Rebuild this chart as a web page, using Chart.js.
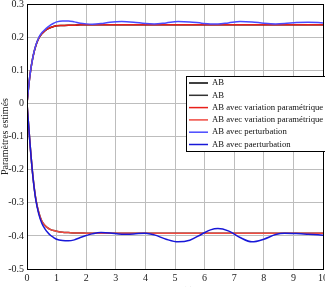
<!DOCTYPE html>
<html>
<head>
<meta charset="utf-8">
<script src="https://cdn.jsdelivr.net/npm/chart.js@4/dist/chart.umd.min.js"></script>
<style>
  html, body { margin: 0; padding: 0; background: #fff; }
  #wrap { width: 325px; height: 287px; position: relative; }
</style>
</head>
<body>
<div id="wrap"><canvas id="myChart"></canvas></div>
<script>
// time samples (s)
var temps = [0, 0.1, 0.2, 0.3, 0.4, 0.5, 0.6, 0.7, 0.8, 0.9, 1.0, 1.2, 1.4, 1.6, 1.8, 2.0, 2.2, 2.5, 2.8, 3.2, 3.6, 4.0, 4.3, 4.7, 5.1, 5.5, 5.9, 6.2, 6.45, 6.8, 7.2, 7.6, 8.0, 8.4, 8.7, 9.1, 9.5, 10];

// AB (hidden under the red ones)
var abHaut = [0, 0.085, 0.14, 0.175, 0.197, 0.21, 0.219, 0.225, 0.229, 0.232, 0.234, 0.235, 0.236, 0.236, 0.237, 0.237, 0.237, 0.237, 0.237, 0.237, 0.237, 0.237, 0.237, 0.237, 0.237, 0.237, 0.237, 0.237, 0.237, 0.237, 0.237, 0.237, 0.237, 0.237, 0.237, 0.237, 0.237, 0.237];
var abBas = [0, -0.12, -0.22, -0.29, -0.33, -0.355, -0.368, -0.376, -0.381, -0.384, -0.386, -0.389, -0.39, -0.391, -0.391, -0.392, -0.392, -0.392, -0.392, -0.392, -0.392, -0.392, -0.392, -0.392, -0.392, -0.392, -0.392, -0.392, -0.392, -0.392, -0.392, -0.392, -0.392, -0.392, -0.392, -0.392, -0.392, -0.392];

// AB avec variation parametrique
var varHaut = [0, 0.085, 0.14, 0.175, 0.197, 0.21, 0.219, 0.225, 0.229, 0.232, 0.234, 0.235, 0.236, 0.236, 0.237, 0.237, 0.237, 0.237, 0.237, 0.237, 0.237, 0.237, 0.237, 0.237, 0.237, 0.237, 0.237, 0.237, 0.237, 0.237, 0.237, 0.237, 0.237, 0.237, 0.237, 0.237, 0.237, 0.237];
var varBas = [0, -0.12, -0.22, -0.29, -0.33, -0.355, -0.368, -0.376, -0.381, -0.384, -0.386, -0.389, -0.39, -0.391, -0.391, -0.392, -0.392, -0.392, -0.392, -0.392, -0.392, -0.392, -0.392, -0.392, -0.392, -0.392, -0.392, -0.392, -0.392, -0.392, -0.392, -0.392, -0.392, -0.392, -0.392, -0.392, -0.392, -0.392];

// AB avec perturbation
var pertHaut = [0, 0.085, 0.14, 0.176, 0.199, 0.213, 0.222, 0.23, 0.237, 0.242, 0.246, 0.249, 0.249, 0.246, 0.242, 0.24, 0.239, 0.241, 0.245, 0.247, 0.245, 0.241, 0.24, 0.243, 0.247, 0.246, 0.242, 0.24, 0.24, 0.243, 0.247, 0.246, 0.242, 0.24, 0.241, 0.244, 0.245, 0.243];
var pertBas = [0, -0.12, -0.222, -0.293, -0.335, -0.362, -0.378, -0.39, -0.399, -0.405, -0.41, -0.414, -0.415, -0.412, -0.405, -0.399, -0.394, -0.39, -0.391, -0.395, -0.394, -0.392, -0.397, -0.41, -0.418, -0.413, -0.395, -0.382, -0.378, -0.385, -0.405, -0.418, -0.41, -0.396, -0.392, -0.393, -0.395, -0.398];

var xTicks = [0, 1, 2, 3, 4, 5, 6, 7, 8, 9, 10];
var yTicks = [-0.5, -0.4, -0.3, -0.2, -0.1, 0, 0.1, 0.2, 0.3];

var legendLabels = ["AB", "AB", "AB avec variation paramétrique", "AB avec variation paramétrique", "AB avec perturbation", "AB avec paerturbation"];
var legendColors = ["#000000", "#333333", "#e8201a", "#f04a40", "#4a4aff", "#1818d8"];

function pts(ys) {
  return temps.map(function (t, i) { return { x: t, y: ys[i] }; });
}

function serie(label, ys, color, order) {
  return {
    label: label,
    data: pts(ys),
    borderColor: color,
    borderWidth: 1.5,
    pointRadius: 0,
    cubicInterpolationMode: "monotone",
    fill: false,
    order: order,
  };
}

var serif = "'Liberation Serif', 'DejaVu Serif', serif";

// frame, axis titles and the boxed legend inside the plot
var decor = {
  id: "decor",
  afterDatasetsDraw: function (chart) {
    var c = chart.ctx;
    var a = chart.chartArea;
    c.save();
    c.strokeStyle = "#000";
    c.lineWidth = 1;
    c.strokeRect(a.left + 0.5, a.top + 0.5, a.right - a.left, a.bottom - a.top);

    // legend
    var lx = 186, ly = 76, lw = 140, lh = 75;
    c.fillStyle = "#fff";
    c.fillRect(lx, ly, lw, lh);
    c.strokeRect(lx + 0.5, ly + 0.5, lw, lh);
    c.font = "8.7px " + serif;
    c.textBaseline = "middle";
    for (var i = 0; i < legendLabels.length; i++) {
      var y = ly + 7 + i * 12.3;
      c.strokeStyle = legendColors[i];
      c.lineWidth = 1.5;
      c.beginPath();
      c.moveTo(189, y);
      c.lineTo(208, y);
      c.stroke();
      c.fillStyle = "#111";
      c.fillText(legendLabels[i], 212, y);
    }

    // axis titles
    c.fillStyle = "#222";
    c.font = "10px " + serif;
    c.textAlign = "center";
    c.textBaseline = "middle";
    c.fillText("Temps(s)", (a.left + a.right) / 2, 291);
    c.translate(5, (a.top + a.bottom) / 2);
    c.rotate(-Math.PI / 2);
    c.fillText("Paramètres estimés", 0, 0);
    c.restore();
  },
};

const ctx = document.getElementById("myChart").getContext("2d");
const myChart = new Chart(ctx, {
  type: "line",
  data: {
    datasets: [
      serie(legendLabels[0], abHaut, legendColors[0], 6),
      serie(legendLabels[1], abBas, legendColors[1], 5),
      serie(legendLabels[2], varHaut, legendColors[2], 4),
      serie(legendLabels[3], varBas, legendColors[3], 3),
      serie(legendLabels[4], pertHaut, legendColors[4], 2),
      serie(legendLabels[5], pertBas, legendColors[5], 1),
    ],
  },
  options: {
    responsive: true,
    maintainAspectRatio: false,
    animation: false,
    layout: { padding: { top: 4, right: 2, left: 0, bottom: 0 } },
    scales: {
      x: {
        type: "linear",
        min: 0,
        max: 10,
        afterFit: function (s) { s.height = 18; s.paddingLeft = 0; s.paddingRight = 0; },
        afterBuildTicks: function (s) { s.ticks = xTicks.map(function (v) { return { value: v }; }); },
        grid: { color: "#bdbdbd", lineWidth: 1, drawTicks: false },
        border: { display: false },
        ticks: {
          padding: 3,
          color: "#222",
          font: { family: serif, size: 10 },
          maxRotation: 0,
          callback: function (v) { return String(v); },
        },
      },
      y: {
        min: -0.5,
        max: 0.3,
        afterFit: function (s) { s.width = 27; s.paddingTop = 0; s.paddingBottom = 0; },
        afterBuildTicks: function (s) { s.ticks = yTicks.map(function (v) { return { value: v }; }); },
        grid: { color: "#bdbdbd", lineWidth: 1, drawTicks: false },
        border: { display: false },
        ticks: {
          padding: 3,
          color: "#222",
          font: { family: serif, size: 10 },
          callback: function (v) { return String(Number(v.toFixed(1))); },
        },
      },
    },
    plugins: {
      legend: { display: false },
      tooltip: { enabled: false },
    },
  },
  plugins: [decor],
});
</script>
</body>
</html>
